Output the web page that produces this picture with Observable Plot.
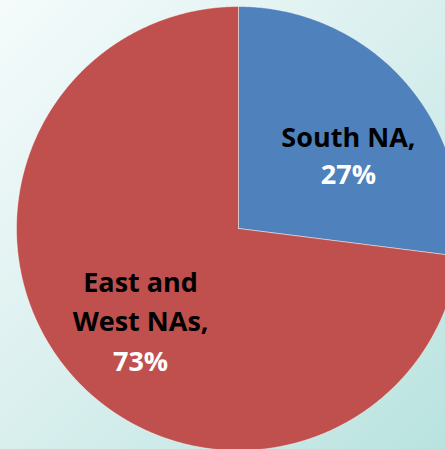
<!DOCTYPE html>
<html>
<head>
<meta charset="utf-8">
<script src="https://cdn.jsdelivr.net/npm/d3@7"></script>
<script src="https://cdn.jsdelivr.net/npm/@observablehq/plot@0.6"></script>
<style>
  html, body { margin: 0; padding: 0; background: #fff; }
  #chart svg { display: block; }
</style>
</head>
<body>
<div id="chart"></div>
<script>
// ---- data ----
const categories = ["South NA", "East and West NAs"];
const nameLabels = ["South NA,", "East and\nWest NAs,"];
const shares = [27, 73];
const colors = ["#4F81BD", "#C0504D"];

// ---- build slices from data ----
const pie = d3.pie().sort(null).value(d => d.share).startAngle(0).endAngle(2 * Math.PI);
const rows = categories.map((c, i) => ({category: c, name: nameLabels[i], share: shares[i]}));
const arcs = pie(rows);

const polygonPoints = [];
for (const a of arcs) {
  const n = Math.max(2, Math.ceil((a.endAngle - a.startAngle) / 0.005));
  polygonPoints.push({category: a.data.category, x: 0, y: 0});
  for (let k = 0; k <= n; k++) {
    const t = a.startAngle + (a.endAngle - a.startAngle) * k / n;
    polygonPoints.push({category: a.data.category, x: Math.sin(t), y: Math.cos(t)});
  }
  polygonPoints.push({category: a.data.category, x: 0, y: 0});
}

const labelR = 0.6;
const labels = arcs.map(a => {
  const m = (a.startAngle + a.endAngle) / 2;
  return {
    category: a.data.category,
    name: a.data.name,
    pct: `${a.data.share}%`,
    x: labelR * Math.sin(m),
    y: labelR * Math.cos(m)
  };
});

const W = 445, H = 449, cx = 238, cy = 228, R = 222;
const font = "'Open Sans', sans-serif";

const chart = Plot.plot({
  width: W,
  height: H,
  margin: 0,
  x: {domain: [-cx / R, (W - cx) / R], axis: null},
  y: {domain: [-(H - cy) / R, cy / R], axis: null},
  color: {domain: categories, range: colors},
  style: {
    background: "linear-gradient(135deg, #F5FBFB 0%, #D9EFEE 50%, #B9E3DF 100%)",
    fontFamily: font
  },
  marks: [
    Plot.line(polygonPoints, {
      x: "x", y: "y", z: "category",
      fill: "category",
      stroke: "white", strokeOpacity: 0.45, strokeWidth: 1,
      clip: true
    }),
    // South NA label
    Plot.text(labels.filter(d => d.category === "South NA"), {
      x: "x", y: "y", text: "name",
      lineAnchor: "bottom", dx: 10, dy: 7,
      fontSize: 27, fontWeight: "bold", fill: "black", fontFamily: font
    }),
    Plot.text(labels.filter(d => d.category === "South NA"), {
      x: "x", y: "y", text: "pct",
      lineAnchor: "bottom", dx: 10, dy: 44,
      fontSize: 27, fontWeight: "bold", fill: "white", fontFamily: font
    }),
    // East and West label
    Plot.text(labels.filter(d => d.category !== "South NA"), {
      x: "x", y: "y", text: "name",
      lineAnchor: "bottom", lineHeight: 1.42, dx: 2, dy: 14,
      fontSize: 27, fontWeight: "bold", fill: "black", fontFamily: font
    }),
    Plot.text(labels.filter(d => d.category !== "South NA"), {
      x: "x", y: "y", text: "pct",
      lineAnchor: "bottom", dx: 2, dy: 54,
      fontSize: 27, fontWeight: "bold", fill: "white", fontFamily: font
    })
  ]
});

document.getElementById("chart").appendChild(chart);
</script>
</body>
</html>
